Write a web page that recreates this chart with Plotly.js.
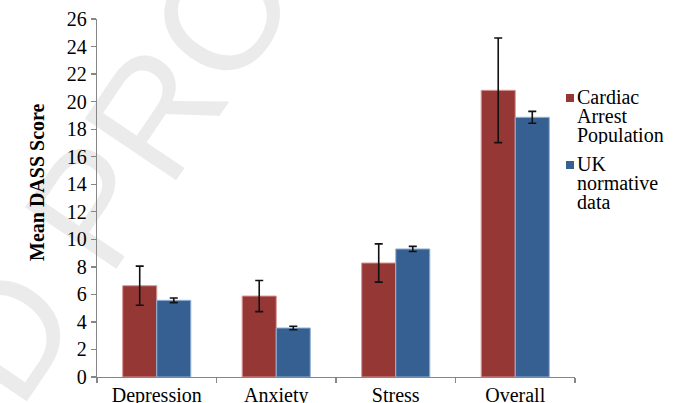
<!DOCTYPE html>
<html>
<head>
<meta charset="utf-8">
<script src="https://cdn.plot.ly/plotly-3.0.1.min.js"></script>
<style>html,body{margin:0;padding:0;background:#fff;}#chart{width:676px;height:403px;}</style>
</head>
<body>
<div id="chart"></div>
<script>
const categories = ['Depression', 'Anxiety', 'Stress', 'Overall'];
const cardiacMean = [6.63, 5.88, 8.28, 20.82];
const cardiacErr = [1.42, 1.13, 1.39, 3.80];
const ukMean = [5.57, 3.56, 9.30, 18.86];
const ukErr = [0.17, 0.13, 0.19, 0.43];
const seriesNames = ['Cardiac Arrest Population', 'UK normative data'];
const seriesColors = ['#953735', '#376092'];
const seriesEdge = ['#d99694', '#95b3d7'];
const yTickVals = [0, 2, 4, 6, 8, 10, 12, 14, 16, 18, 20, 22, 24, 26];
const yTitle = 'Mean DASS Score';
const watermark = 'ED PROOF';

const W = 676, H = 403;
const M = {l: 97, r: 101, t: 19, b: 26};
const PW = W - M.l - M.r, PH = H - M.t - M.b;
const px = v => (v - M.l) / PW;
const py = v => (H - M.b - v) / PH;
const serif = 'Liberation Serif, Times New Roman, serif';

const traces = [
  {type: 'bar', name: seriesNames[0], x: categories, y: cardiacMean,
   marker: {color: seriesColors[0], line: {color: seriesEdge[0], width: 1}},
   error_y: {type: 'data', array: cardiacErr, visible: true, color: '#111', thickness: 1.6, width: 4}},
  {type: 'bar', name: seriesNames[1], x: categories, y: ukMean,
   marker: {color: seriesColors[1], line: {color: seriesEdge[1], width: 1}},
   error_y: {type: 'data', array: ukErr, visible: true, color: '#111', thickness: 1.6, width: 4}}
];

const annotations = [];
const shapes = [];
// faint watermark, drawn beneath everything
shapes.push({type: 'rect', xref: 'paper', yref: 'paper', layer: 'below',
  x0: px(125), x1: px(145), y0: py(125), y1: py(105),
  fillcolor: 'rgba(0,0,0,0)', line: {width: 0},
  label: {text: watermark, textangle: -56, textposition: 'middle center',
    font: {family: 'Liberation Sans, Arial, sans-serif', size: 160, color: '#ebebeb'}}});
// y axis title
annotations.push({text: '<b>' + yTitle + '</b>', xref: 'paper', yref: 'paper', x: px(37), y: py(182),
  showarrow: false, textangle: -90, font: {family: serif, size: 20, color: '#000'},
  xanchor: 'center', yanchor: 'middle'});
// legend
const legendTop = [94, 161];
seriesNames.forEach((name, i) => {
  shapes.push({type: 'rect', xref: 'paper', yref: 'paper', x0: px(566), x1: px(574),
    y0: py(legendTop[i]), y1: py(legendTop[i] + 8), fillcolor: seriesColors[i], line: {width: 0}});
  const words = i === 0 ? ['Cardiac', 'Arrest', 'Population'] : ['UK', 'normative', 'data'];
  words.forEach((w, j) => {
    const baseline = legendTop[i] + 9 + j * 19;
    annotations.push({text: w, xref: 'paper', yref: 'paper', x: px(576), y: py(baseline - 6),
      showarrow: false, xanchor: 'left', yanchor: 'middle', borderpad: 0, height: 18,
      font: {family: serif, size: 20, color: '#000'}});
  });
});

const layout = {
  width: W, height: H,
  margin: M,
  paper_bgcolor: '#fff', plot_bgcolor: 'rgba(0,0,0,0)',
  barmode: 'group', bargap: 0.43, bargroupgap: 0,
  showlegend: false,
  font: {family: serif, size: 20, color: '#000'},
  xaxis: {type: 'category', showline: true, linecolor: '#868686', linewidth: 1.3,
    ticks: 'outside', tickson: 'boundaries', ticklen: 5, tickcolor: '#868686', tickwidth: 1.3,
    tickfont: {family: serif, size: 20, color: '#000'}, showgrid: false, zeroline: false},
  yaxis: {range: [0, 26], tickvals: yTickVals, showline: true, linecolor: '#868686', linewidth: 1.3,
    ticks: 'outside', ticklen: 5, tickcolor: '#868686', tickwidth: 1.3,
    tickfont: {family: serif, size: 20, color: '#000'}, showgrid: false, zeroline: false},
  annotations: annotations,
  shapes: shapes
};

Plotly.newPlot('chart', traces, layout, {staticPlot: true, displayModeBar: false});
</script>
</body>
</html>
